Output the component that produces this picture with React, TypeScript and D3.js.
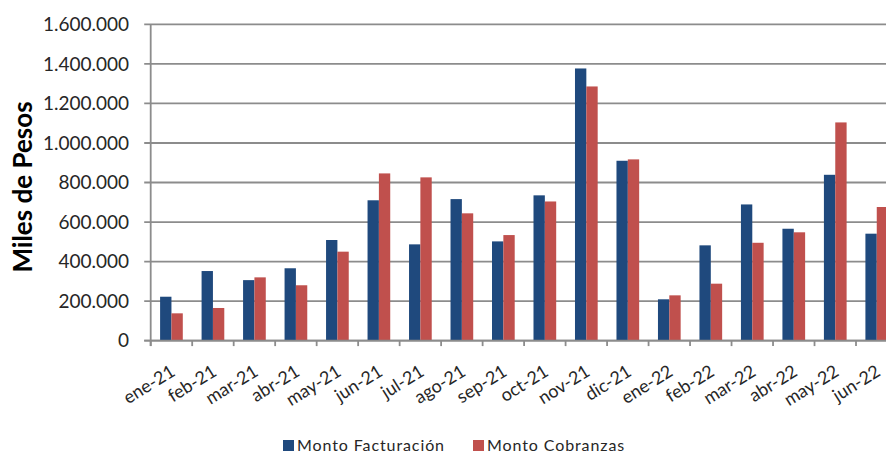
import React from "react";
import * as d3 from "d3";

const months = ["ene-21","feb-21","mar-21","abr-21","may-21","jun-21","jul-21","ago-21","sep-21","oct-21","nov-21","dic-21","ene-22","feb-22","mar-22","abr-22","may-22","jun-22"];
const facturacion = [222000,352000,306000,366000,509000,710000,487000,716000,502000,735000,1377000,910000,209000,482000,689000,566000,839000,541000];
const cobranzas = [138000,165000,320000,280000,450000,846000,826000,644000,534000,704000,1286000,917000,229000,288000,495000,548000,1104000,676000];
const yTicks = [0,200000,400000,600000,800000,1000000,1200000,1400000,1600000];
const seriesNames = ["Monto Facturación","Monto Cobranzas"];
const colors = ["#1F497D","#C0504D"];

const W = 886, H = 453;
const left = 150.7, right = 897.5, top = 24.4, bottom = 340.6;
const FONT = "Lato, 'Open Sans', sans-serif";

export default function App() {
  const x = d3.scaleBand<string>().domain(months).range([left, right]).paddingInner(0).paddingOuter(0);
  const y = d3.scaleLinear().domain([0, 1600000]).range([bottom, top]);
  const barW = x.bandwidth() * 0.2735;
  const fmt = (v: number) => d3.format(",")(v).replace(/,/g, ".");
  const gridColor = "#8c8c8c";
  const series = [facturacion, cobranzas];

  return (
    <svg width={W} height={H} style={{ position: "absolute", left: 0, top: 0, background: "#fff" }} fontFamily={FONT}>
      {yTicks.map((t) => (
        <g key={t}>
          <line x1={left - 6.5} x2={W} y1={y(t)} y2={y(t)} stroke={gridColor} strokeWidth={1.8} />
          <text x={129} y={y(t)} dy="0.36em" textAnchor="end" fontSize={19} fill="#262626">{fmt(t)}</text>
        </g>
      ))}
      <line x1={left} x2={left} y1={top} y2={bottom + 5.5} stroke={gridColor} strokeWidth={1.8} />
      {months.map((m) => (
        <line key={"t" + m} x1={x(m) as number} x2={x(m) as number} y1={bottom} y2={bottom + 5.5} stroke={gridColor} strokeWidth={1.8} />
      ))}
      {months.map((m, i) => {
        const c = (x(m) as number) + x.bandwidth() / 2;
        return (
          <g key={"b" + m}>
            {series.map((s, k) => (
              <rect key={k} x={c - barW + k * barW} y={y(s[i])} width={barW} height={bottom - y(s[i])} fill={colors[k]} />
            ))}
          </g>
        );
      })}
      <line x1={left - 6.5} x2={W} y1={bottom} y2={bottom} stroke={gridColor} strokeWidth={1.8} />
      {months.map((m) => {
        const c = (x(m) as number) + x.bandwidth() / 2;
        return (
          <text key={"l" + m} transform={`translate(${c - 2},${bottom + 23}) rotate(-32)`} textAnchor="end" dy="0.72em" fontSize={18} fill="#262626">{m}</text>
        );
      })}
      <text transform={`translate(32,187) rotate(-90)`} textAnchor="middle" fontSize={26} fontWeight="bold" fill="#000">Miles de Pesos</text>
      {seriesNames.map((n, k) => {
        const lx = [283, 473][k];
        return (
          <g key={n}>
            <rect x={lx} y={440} width={11} height={11} fill={colors[k]} />
            <text x={lx + 14} y={445.5} dy="0.36em" fontSize={16} fill="#262626" letterSpacing={0.9}>{n}</text>
          </g>
        );
      })}
    </svg>
  );
}
